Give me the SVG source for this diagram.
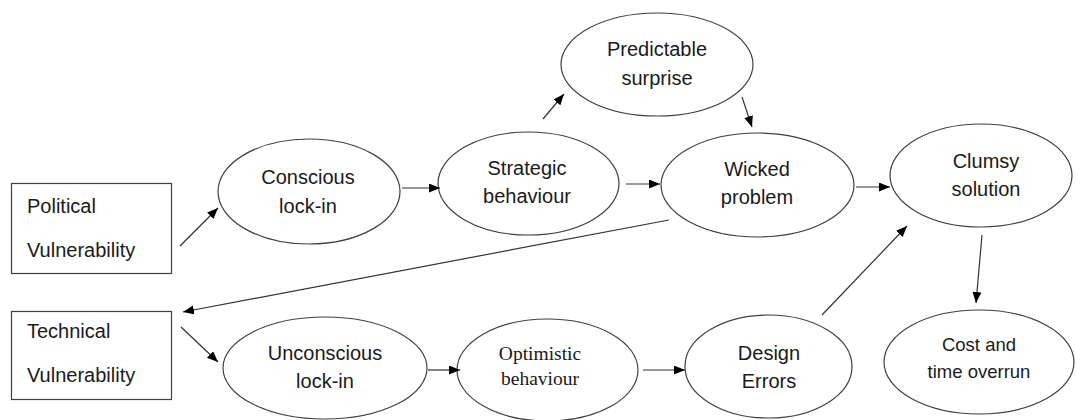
<svg xmlns="http://www.w3.org/2000/svg" width="1076" height="420" viewBox="0 0 1076 420">
<style>
.node ellipse, .node rect { fill: #ffffff; stroke: #404040; stroke-width: 1.2; }
.t { font-family: "Liberation Sans", Arial, sans-serif; font-size: 20px; fill: #1a1a1a; }
.c { text-anchor: middle; }
.serif { font-family: "Liberation Serif", "Times New Roman", serif; font-size: 19.5px; fill: #1a1a1a; text-anchor: middle; }
.small { font-size: 18.5px; }
.conn line { stroke: #333333; stroke-width: 1.2; marker-end: url(#arr); }
</style>
<defs>
<marker id="arr" markerUnits="userSpaceOnUse" markerWidth="12" markerHeight="10" refX="11" refY="4.5" orient="auto">
<path d="M0,0 L11,4.5 L0,9 z" fill="#000000"/>
</marker>
</defs>
<rect width="1076" height="420" fill="#ffffff"/>
<g id="political" class="node">
<rect x="11.5" y="183.5" width="160" height="90"/>
<text class="t" x="27" y="213">Political</text>
<text class="t" x="27" y="257">Vulnerability</text>
</g>
<g id="technical" class="node">
<rect x="11.5" y="311.5" width="160" height="88"/>
<text class="t" x="27" y="338">Technical</text>
<text class="t" x="27" y="382">Vulnerability</text>
</g>
<g id="conscious" class="node">
<ellipse cx="309" cy="191.5" rx="91" ry="52.5"/>
<text class="t c" x="308" y="184">Conscious</text>
<text class="t c" x="308" y="213">lock-in</text>
</g>
<g id="strategic" class="node">
<ellipse cx="528.5" cy="183.5" rx="90.5" ry="51.5"/>
<text class="t c" x="527" y="175">Strategic</text>
<text class="t c" x="527" y="203">behaviour</text>
</g>
<g id="predictable" class="node">
<ellipse cx="657" cy="64.5" rx="96" ry="51.5"/>
<text class="t c" x="657" y="56">Predictable</text>
<text class="t c" x="657" y="85">surprise</text>
</g>
<g id="wicked" class="node">
<ellipse cx="757.5" cy="185" rx="96.5" ry="52"/>
<text class="t c" x="757" y="176">Wicked</text>
<text class="t c" x="757" y="204">problem</text>
</g>
<g id="clumsy" class="node">
<ellipse cx="981" cy="175.5" rx="91" ry="51.5"/>
<text class="t c" x="986" y="168">Clumsy</text>
<text class="t c" x="986" y="196">solution</text>
</g>
<g id="cost" class="node">
<ellipse cx="979" cy="362" rx="95" ry="52"/>
<text class="t c small" x="979" y="351">Cost and</text>
<text class="t c small" x="979" y="378">time overrun</text>
</g>
<g id="design" class="node">
<ellipse cx="768.5" cy="366.5" rx="83.5" ry="51.5"/>
<text class="t c" x="769" y="360">Design</text>
<text class="t c" x="769" y="388">Errors</text>
</g>
<g id="optimistic" class="node">
<ellipse cx="547.5" cy="370" rx="90.5" ry="51"/>
<text class="serif" x="540" y="360">Optimistic</text>
<text class="serif" x="540" y="385">behaviour</text>
</g>
<g id="unconscious" class="node">
<ellipse cx="325" cy="368" rx="102" ry="51"/>
<text class="t c" x="325" y="360">Unconscious</text>
<text class="t c" x="325" y="388">lock-in</text>
</g>
<g id="connectors" class="conn">
<line x1="180" y1="246" x2="218" y2="208"/>
<line x1="402" y1="188" x2="440" y2="188"/>
<line x1="543" y1="119" x2="564" y2="94"/>
<line x1="742" y1="97" x2="752" y2="127"/>
<line x1="626" y1="184" x2="660" y2="184"/>
<line x1="856" y1="187" x2="890" y2="187"/>
<line x1="669" y1="220" x2="183" y2="312"/>
<line x1="181" y1="327" x2="218" y2="362"/>
<line x1="428" y1="370" x2="460" y2="370"/>
<line x1="643" y1="370" x2="685" y2="370"/>
<line x1="822" y1="315" x2="907" y2="226"/>
<line x1="982" y1="235" x2="976" y2="303"/>
</g>
</svg>
